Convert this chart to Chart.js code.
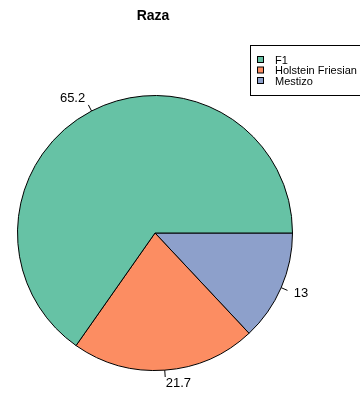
<!DOCTYPE html>
<html>
<head>
<meta charset="utf-8">
<script src="https://cdn.jsdelivr.net/npm/chart.js@4"></script>
<style>
  html, body { margin: 0; padding: 0; background: #fff; }
  canvas { display: block; }
</style>
</head>
<body>
<canvas id="chart__raza" width="360" height="394"></canvas>
<script>
const titleText = "Raza";
const categories = ["F1", "Holstein Friesian", "Mestizo"];
const values = [65.2, 21.7, 13];
const colors = ["#66C2A5", "#FC8D62", "#8DA0CB"];

// R draws slices counterclockwise from 3 o'clock, Chart.js goes clockwise,
// so feed the slices in reverse order
const order = categories.map((_, i) => i).reverse();

const labelFont = "13px 'Liberation Sans', Arial, sans-serif";

const rPieExtras = {
  id: "rPieExtras",
  afterDraw(chart) {
    const ctx = chart.ctx;
    const meta = chart.getDatasetMeta(0);
    ctx.save();
    // title
    ctx.fillStyle = "#000";
    ctx.font = "bold 14px 'Liberation Sans', Arial, sans-serif";
    ctx.textAlign = "center";
    ctx.textBaseline = "middle";
    ctx.fillText(titleText, 153, 16);

    // slice labels with short leader lines
    ctx.font = labelFont;
    ctx.strokeStyle = "#000";
    ctx.lineWidth = 1;
    meta.data.forEach((arc, i) => {
      const { x, y, startAngle, endAngle, outerRadius } = arc.getProps(
        ["x", "y", "startAngle", "endAngle", "outerRadius"],
        true
      );
      const mid = (startAngle + endAngle) / 2;
      const c = Math.cos(mid);
      const s = Math.sin(mid);
      ctx.beginPath();
      ctx.moveTo(x + c * outerRadius, y + s * outerRadius);
      ctx.lineTo(x + c * outerRadius * 1.05, y + s * outerRadius * 1.05);
      ctx.stroke();
      ctx.textAlign = c < 0 ? "right" : "left";
      ctx.fillText(
        String(chart.data.datasets[0].data[i]),
        x + c * outerRadius * 1.1,
        y + s * outerRadius * 1.1
      );
    });

    // legend box (runs off the right edge like the original)
    ctx.strokeStyle = "#000";
    ctx.strokeRect(250.5, 45.5, 120, 50);
    ctx.font = "11px 'Liberation Sans', Arial, sans-serif";
    ctx.textAlign = "left";
    categories.forEach((name, i) => {
      const ry = 60 + i * 10.5;
      ctx.fillStyle = colors[i];
      ctx.fillRect(257.5, ry - 3.5, 6, 6);
      ctx.strokeRect(257.5, ry - 3.5, 6, 6);
      ctx.fillStyle = "#000";
      ctx.fillText(name, 275, ry + 0.5);
    });
    ctx.restore();
  },
};

new Chart(document.getElementById("chart__raza"), {
  type: "pie",
  data: {
    labels: order.map((i) => categories[i]),
    datasets: [
      {
        data: order.map((i) => values[i]),
        backgroundColor: order.map((i) => colors[i]),
        borderColor: "#000",
        borderWidth: 1,
      },
    ],
  },
  options: {
    responsive: false,
    animation: false,
    rotation: 90,
    layout: { padding: { left: 17, right: 67, top: 95, bottom: 23 } },
    plugins: {
      legend: { display: false },
      title: { display: false },
      tooltip: { enabled: false },
    },
  },
  plugins: [rPieExtras],
});
</script>
</body>
</html>
